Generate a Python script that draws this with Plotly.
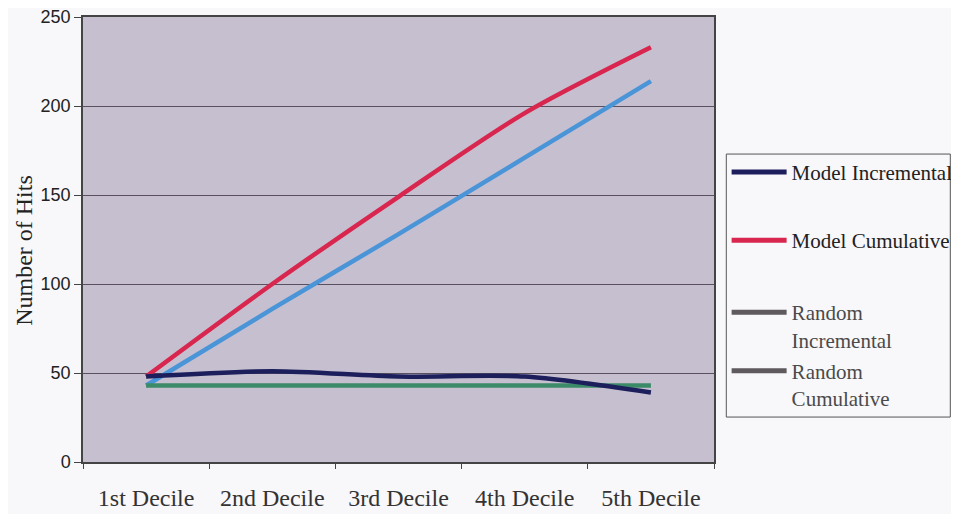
import plotly.graph_objects as go

categories = ["1st Decile", "2nd Decile", "3rd Decile", "4th Decile", "5th Decile"]
model_incremental = [48, 51, 48, 48, 39]
model_cumulative = [48, 100, 149, 196, 233]
random_incremental = [43, 43, 43, 43, 43]
random_cumulative = [43, 86, 128, 171, 214]
y_ticks = [0, 50, 100, 150, 200, 250]

series = [
    ("Model Incremental", model_incremental, "#1c1f5c", "#1c1f5c", "legend"),
    ("Model Cumulative", model_cumulative, "#d8264f", "#d8264f", "legend"),
    ("Random<br>Incremental", random_incremental, "#3b8a68", "#5e5a5e", "legend2"),
    ("Random<br>Cumulative", random_cumulative, "#4a94d8", "#5e5a5e", "legend2"),
]

fig = go.Figure()
for name, vals, col, lcol, lg in [series[3], series[2], series[1], series[0]]:
    fig.add_trace(go.Scatter(
        x=categories, y=vals, mode="lines", name=name,
        line=dict(color=col, width=4.5, shape="spline", smoothing=0.8),
        showlegend=False, hoverinfo="skip"))

for i, (name, vals, col, lcol, lg) in enumerate(series):
    fig.add_trace(go.Scatter(
        x=[None], y=[None], mode="lines", name=name, legend=lg,
        line=dict(color=lcol, width=5), legendgroup=f"g{i}", showlegend=True))

serif = "Liberation Serif, Times New Roman, serif"

# legend frame
fig.add_shape(type="rect", xref="paper", yref="paper",
              x0=1.0195, x1=1.3745, y0=0.101, y1=0.692,
              line=dict(color="#555555", width=1), fillcolor="#f8f7fa", layer="below")

# y-axis title
fig.add_annotation(text="Number of Hits", xref="paper", yref="paper",
                   x=-0.094, y=0.476, textangle=-90, showarrow=False,
                   xanchor="center", yanchor="middle",
                   font=dict(family=serif, size=24, color="#222222"))

fig.update_layout(
    width=959, height=514,
    margin=dict(l=75, r=250, t=9, b=60),
    paper_bgcolor="#f8f7fa",
    plot_bgcolor="#c6bfcf",
    font=dict(family=serif, color="#222222"),
    showlegend=True,
    legend=dict(
        x=1.02, xanchor="left", y=0.697, yanchor="top",
        bgcolor="rgba(0,0,0,0)", borderwidth=0, itemwidth=55,
        font=dict(family=serif, size=21, color="#222222"),
        tracegroupgap=38, traceorder="grouped",
    ),
    legend2=dict(
        x=1.02, xanchor="left", y=0.382, yanchor="top",
        bgcolor="rgba(0,0,0,0)", borderwidth=0, itemwidth=55, valign="top",
        font=dict(family=serif, size=21, color="#4a4a4a"),
        tracegroupgap=1, traceorder="grouped",
    ),
    xaxis=dict(
        type="category", range=[-0.5, 4.5], tickson="boundaries", ticks="outside", ticklen=5,
        tickcolor="#444444", showgrid=False, showline=True, linecolor="#444444",
        linewidth=1.5, mirror=True, automargin=False, ticklabelstandoff=13,
        tickfont=dict(family=serif, size=24, color="#333333"),
    ),
    yaxis=dict(
        range=[0, 250], tickvals=y_ticks, ticks="outside", ticklen=7,
        tickcolor="#444444", showgrid=True, gridcolor="#5a5060", gridwidth=1,
        showline=True, linecolor="#444444", linewidth=1.5, mirror=True,
        zeroline=False, automargin=False, ticklabeloverflow="allow",
        tickfont=dict(family="Liberation Sans, Arial, sans-serif", size=18, color="#222222"),
    ),
)

fig.write_html("out.html")
